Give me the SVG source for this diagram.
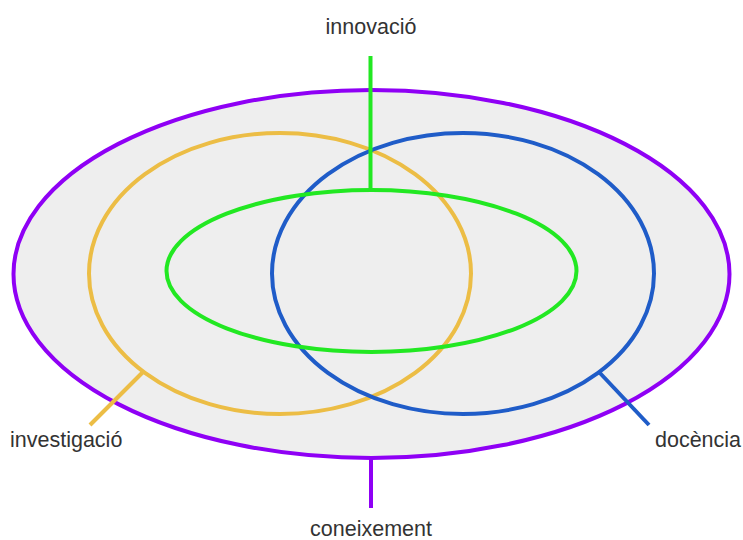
<svg xmlns="http://www.w3.org/2000/svg" width="743" height="540" viewBox="0 0 743 540">
<style>
.e{fill:none;stroke-width:4}
.t{font-family:"Liberation Sans",Arial,sans-serif;font-size:21.5px;fill:#333}
.l{stroke-width:4}
</style>
<rect width="743" height="540" fill="#fff"/>
<g id="coneixement">
<ellipse cx="371.5" cy="274" rx="358" ry="184" fill="#eeeeee" stroke="#8f00f5" stroke-width="4"/>
<text class="t" x="371" y="536" text-anchor="middle">coneixement</text>
</g>
<g id="investigacio">
<ellipse class="e" cx="280" cy="273.5" rx="191" ry="140.5" stroke="#ecbd45"/>
<text class="t" x="10" y="447">investigació</text>
</g>
<g id="docencia">
<ellipse class="e" cx="463" cy="273.5" rx="191" ry="140.5" stroke="#1f5cc8"/>
<text class="t" x="655" y="447">docència</text>
</g>
<g id="innovacio">
<ellipse class="e" cx="371.5" cy="271" rx="205" ry="81" stroke="#22e822"/>
<text class="t" x="371" y="34" text-anchor="middle">innovació</text>
</g>
<g id="connectors">
<line class="l" x1="370.5" y1="56" x2="370.5" y2="190" stroke="#22e822"/>
<line class="l" x1="371" y1="458" x2="371" y2="508" stroke="#8f00f5"/>
<line class="l" x1="143" y1="372" x2="90" y2="425" stroke="#ecbd45"/>
<line class="l" x1="599" y1="372" x2="649" y2="425" stroke="#1f5cc8"/>
</g>
</svg>
